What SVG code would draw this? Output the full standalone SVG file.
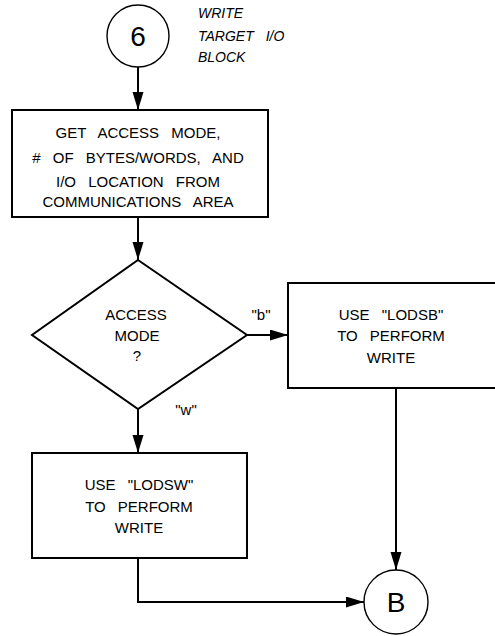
<svg xmlns="http://www.w3.org/2000/svg" width="495" height="636" viewBox="0 0 495 636">
<style>
.box{fill:none;stroke:#000;stroke-width:2}
.circ{fill:none;stroke:#000;stroke-width:1.4}
.t{font-family:"Liberation Sans",Arial,sans-serif;font-size:15px;fill:#000;text-anchor:middle;word-spacing:8px}
.it{font-family:"Liberation Sans",Arial,sans-serif;font-size:14px;font-style:italic;fill:#000;word-spacing:8px}
.big{font-family:"Liberation Sans",Arial,sans-serif;font-size:28px;fill:#000;text-anchor:middle}
.c{fill:none;stroke:#000;stroke-width:2;marker-end:url(#ah)}
</style>
<defs>
<marker id="ah" markerUnits="userSpaceOnUse" markerWidth="20" markerHeight="12" refX="18" refY="5.5" orient="auto">
<path d="M0,0 L18,5.5 L0,11 Z" fill="#000"/>
</marker>
</defs>
<g id="connectors">
<path class="c" d="M138,67 L138,110"/>
<path class="c" d="M138,217 L138,260"/>
<path class="c" d="M247,335 L288,335"/>
<path class="c" d="M138,409 L138,453"/>
<path class="c" d="M396,388 L396,570"/>
<path class="c" d="M138,558 L138,602 L364,602"/>
<text class="t" x="261" y="320">"b"</text>
<text class="t" x="186" y="415">"w"</text>
</g>
<g id="start">
<circle class="circ" cx="138" cy="36" r="31"/>
<text class="big" x="138" y="46">6</text>
<text class="it" x="198" y="18">WRITE</text>
<text class="it" x="198" y="41">TARGET I/O</text>
<text class="it" x="198" y="62">BLOCK</text>
</g>
<g id="get">
<rect class="box" x="12" y="110" width="256" height="107"/>
<text class="t" x="138" y="138">GET ACCESS MODE,</text>
<text class="t" x="138" y="163"># OF BYTES/WORDS, AND</text>
<text class="t" x="138" y="187">I/O LOCATION FROM</text>
<text class="t" x="138" y="207">COMMUNICATIONS AREA</text>
</g>
<g id="decision">
<path class="box" d="M138,260 L247,335 L138,409 L32,335 Z"/>
<text class="t" x="136" y="320">ACCESS</text>
<text class="t" x="137" y="341">MODE</text>
<text class="t" x="137" y="361">?</text>
</g>
<g id="lodsb">
<rect class="box" x="288" y="283" width="210" height="105"/>
<text class="t" x="391" y="320">USE "LODSB"</text>
<text class="t" x="391" y="341">TO PERFORM</text>
<text class="t" x="391" y="363">WRITE</text>
</g>
<g id="lodsw">
<rect class="box" x="32" y="453" width="215" height="105"/>
<text class="t" x="139" y="490">USE "LODSW"</text>
<text class="t" x="139" y="512">TO PERFORM</text>
<text class="t" x="139" y="533">WRITE</text>
</g>
<g id="end">
<circle class="circ" cx="396" cy="602" r="32"/>
<text class="big" x="396" y="612">B</text>
</g>
</svg>
